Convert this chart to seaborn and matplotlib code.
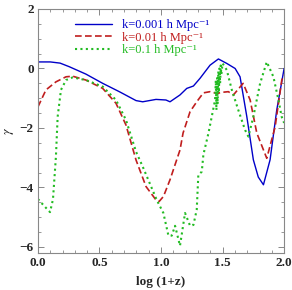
import matplotlib
matplotlib.use("Agg")
import matplotlib.pyplot as plt
import seaborn as sns
import pandas as pd

# log(1+z) and gamma for the three scales
x_k0001 = [0.0, 0.1, 0.18, 0.254, 0.39, 0.526, 0.661, 0.797, 0.851, 0.959, 1.04, 1.073,
           1.154, 1.209, 1.263, 1.317, 1.398, 1.466, 1.534, 1.602, 1.642, 1.697, 1.75,
           1.79, 1.832, 1.886, 1.94, 2.0]
y_k0001 = [0.22, 0.22, 0.18, 0.06, -0.19, -0.5, -0.78, -1.08, -1.12, -1.04, -1.06, -1.12,
           -0.89, -0.67, -0.59, -0.33, 0.11, 0.32, 0.17, 0.0, -0.28, -1.62, -3.07,
           -3.65, -3.91, -3.07, -1.40, 0.0]

x_k001 = [0.0, 0.065, 0.146, 0.228, 0.282, 0.39, 0.526, 0.634, 0.715, 0.797, 0.878, 0.959,
          0.985, 1.02, 1.073, 1.154, 1.179, 1.236, 1.29, 1.344, 1.398, 1.453, 1.50, 1.547,
          1.588, 1.667, 1.724, 1.778, 1.859, 1.927, 1.981, 2.0]
y_k001 = [-1.29, -0.72, -0.45, -0.28, -0.26, -0.39, -0.67, -1.17, -1.9, -3.08, -3.97, -4.42,
          -4.47, -4.3, -3.74, -2.74, -2.17, -1.45, -1.12, -0.82, -0.78, -0.84, -0.80, -0.78,
          -0.89, -0.5, -1.06, -2.17, -3.02, -1.96, -0.39, -0.22]

x_k01 = [0.0, 0.05, 0.098, 0.122, 0.146, 0.16, 0.187, 0.228, 0.282, 0.39, 0.526, 0.634,
         0.715, 0.797, 0.851, 0.905, 0.965, 1.019, 1.06, 1.087, 1.114, 1.154, 1.195, 1.236,
         1.263, 1.29, 1.303, 1.331, 1.344, 1.385, 1.412, 1.439, 1.445, 1.45, 1.455, 1.46,
         1.465, 1.47, 1.475, 1.48, 1.485, 1.49, 1.50, 1.534, 1.575, 1.628, 1.683, 1.71,
         1.75, 1.805, 1.859, 1.913, 1.954, 1.98, 2.0]
y_k01 = [-4.39, -4.62, -4.83, -4.4, -2.96, -1.62, -0.72, -0.39, -0.3, -0.39, -0.61, -1.06,
         -1.73, -2.8, -3.3, -3.83, -4.42, -4.86, -5.62, -5.62, -5.29, -5.96, -4.86, -5.29,
         -5.26, -4.75, -3.58, -3.47, -2.9, -2.18, -1.62, -1.06, -0.4, -1.4, -0.3, -1.2,
         -0.1, -0.8, 0.0, -0.5, 0.1, -0.2, 0.17, -0.05, -0.72, -1.40, -2.07, -2.29,
         -1.62, -0.5, 0.22, -0.28, -1.06, -1.62, -1.83]

labels = ["k=0.001 h Mpc\u207b\u00b9", "k=0.01 h Mpc\u207b\u00b9", "k=0.1 h Mpc\u207b\u00b9"]
colors = ["#0000c8", "#c01e1e", "#22bb22"]
styles = ["-", (0, (4, 2)), (0, (1, 1.6))]
widths = [1.0, 1.2, 1.5]

sns.set_theme(style="ticks")
plt.rcParams["font.family"] = ["Liberation Serif", "DejaVu Serif"]
plt.rcParams["mathtext.fontset"] = "stix"

fig = plt.figure(figsize=(2.92, 2.90), dpi=100)
ax = fig.add_axes([0.130, 0.128, 0.843, 0.841])

series = [(x_k0001, y_k0001), (x_k001, y_k001), (x_k01, y_k01)]
for (xs, ys), lab, c, ls, lw in zip(series, labels, colors, styles, widths):
    df = pd.DataFrame({"x": xs, "y": ys})
    sns.lineplot(data=df, x="x", y="y", ax=ax, sort=False, estimator=None,
                 color=c, linestyle=ls, linewidth=lw, label=lab)

ax.set_xlim(0, 2)
ax.set_ylim(-6.2, 2)
ax.set_xticks([0, 0.5, 1.0, 1.5, 2.0])
ax.set_xticklabels(["0.0", "0.5", "1.0", "1.5", "2.0"])
ax.set_yticks([-6, -4, -2, 0, 2])
ax.set_yticklabels(["\u22126", "\u22124", "\u22122", "0", "2"])
ax.xaxis.set_minor_locator(matplotlib.ticker.MultipleLocator(0.1))
ax.yaxis.set_minor_locator(matplotlib.ticker.MultipleLocator(0.5))
ax.tick_params(which="both", direction="in", top=True, right=True, color="#888888")
ax.tick_params(which="major", length=4, width=0.7, labelsize=9.5, pad=3)
ax.tick_params(which="minor", length=2, width=0.6)
for t in ax.get_xticklabels() + ax.get_yticklabels():
    t.set_fontweight("bold")
for s in ax.spines.values():
    s.set_color("#888888")
    s.set_linewidth(0.8)

ax.set_xlabel("log (1+z)", fontsize=9.5, fontweight="bold", labelpad=5)
ax.set_ylabel(r"$\gamma$", fontsize=10, labelpad=3)

leg = ax.legend(loc="upper left", bbox_to_anchor=(0.15, 0.958), frameon=False,
                fontsize=9, handlelength=3.0, handletextpad=0.8, labelspacing=0.05,
                borderaxespad=0, borderpad=0)
for txt, c in zip(leg.get_texts(), colors):
    txt.set_color(c)

fig.savefig("out.png", dpi=100)
